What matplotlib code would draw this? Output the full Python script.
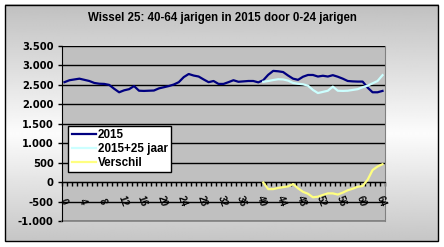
import matplotlib
matplotlib.use('Agg')
import matplotlib.pyplot as plt
from matplotlib.patches import Rectangle
from matplotlib.ticker import MultipleLocator, FuncFormatter
import numpy as np

nan = float('nan')

title = 'Wissel 25: 40-64 jarigen in 2015 door 0-24 jarigen'
series_labels = ['2015', '2015+25 jaar', 'Verschil']
ages = list(range(65))
xtick_labels = ['0', '4', '8', '12', '16', '20', '24', '28', '32', '36',
                '40', '44', '48', '52', '56', '60', '64']

y2015 = [2570, 2620, 2640, 2660, 2630, 2600, 2550, 2530, 2525, 2500,
         2400, 2310, 2360, 2390, 2470, 2350, 2345, 2350, 2355, 2410,
         2440, 2470, 2510, 2570, 2700, 2780, 2740, 2715, 2640, 2570,
         2600, 2525, 2525, 2570, 2620, 2580, 2590, 2600, 2600, 2565,
         2620, 2760, 2860, 2850, 2830, 2740, 2660, 2630, 2710, 2755,
         2755, 2715, 2735, 2715, 2750, 2710, 2660, 2600, 2590, 2585,
         2585, 2430, 2310, 2310, 2345]

y2040 = [nan] * 40 + [
         2580, 2600, 2625, 2645, 2640, 2610, 2550, 2530, 2515, 2480,
         2370, 2290, 2320, 2350, 2455, 2350, 2345, 2350, 2370, 2390,
         2440, 2480, 2540, 2600, 2750]

verschil = [nan] * 40 + [
         -10, -180, -180, -150, -130, -110, -50, -160, -250, -300,
         -390, -375, -330, -290, -290, -320, -270, -210, -170, -120,
         -100, 60, 310, 400, 460]

W, H = 444, 247
fig = plt.figure(figsize=(W / 100, H / 100), dpi=100)
fig.patch.set_facecolor('white')

# background frame with vertical gradient
bg = fig.add_axes([0, 0, 1, 1], zorder=-10)
rows = np.arange(5, 242)
vals = np.interp(rows, [5, 135, 241], [192, 252, 198]) / 255.0
img = np.repeat(vals[:, None], 2, axis=1)
bg.imshow(img, cmap='gray', vmin=0, vmax=1, extent=[5, 438, 241, 5],
          aspect='auto', interpolation='bilinear')
bg.add_patch(Rectangle((5, 5), 433, 236, fill=False, edgecolor='black', lw=1))
bg.set_xlim(0, W)
bg.set_ylim(H, 0)
bg.axis('off')

fig.text(0.501, 1 - 18 / H, title, ha='center', va='center',
         family='Liberation Sans', fontweight='bold', fontsize=8.3)

ax = fig.add_axes([62 / W, 1 - 221 / H, 323 / W, 175 / H])
ax.set_facecolor('#c0c0c0')
ax.set_xlim(0, 65)
ax.set_ylim(-1000, 3500)

x = np.arange(len(ages)) + 0.5
l1, = ax.plot(x, y2015, color='#000080', lw=1.6, zorder=3)
l2, = ax.plot(x, y2040, color='#ccffff', lw=1.6, zorder=3)
l3, = ax.plot(x, verschil, color='#ffff80', lw=1.6, zorder=3)

ax.yaxis.set_major_locator(MultipleLocator(500))
ax.yaxis.set_major_formatter(FuncFormatter(lambda v, p: f"{int(v):,}".replace(',', '.')))
ax.yaxis.grid(True, color='black', lw=1)
ax.set_axisbelow(True)
ax.tick_params(axis='y', length=3, width=1, pad=3, labelsize=7.2, colors='black')
for t in ax.get_yticklabels():
    t.set_fontweight('bold')
    t.set_family('DejaVu Sans')

ax.set_xticks(np.arange(0, 66))
ax.tick_params(axis='x', length=3, width=1, direction='out', labelbottom=False)
ax.spines['bottom'].set_position(('data', 0))
ax.spines['bottom'].set_color('black')
ax.spines['left'].set_color('black')
ax.spines['top'].set_visible(False)
ax.spines['right'].set_color('#808080')
ax.plot([0, 1], [0, 0], transform=ax.transAxes, color='#808080', lw=1.2,
        clip_on=False, zorder=2.5)

for lab in xtick_labels:
    ax.text(int(lab) + 0.2, -500, lab, rotation=-70,
            ha='center', va='center', rotation_mode='anchor',
            fontsize=7, fontweight='bold', family='Liberation Sans', zorder=4)

leg = ax.legend([l1, l2, l3], series_labels, loc='upper left',
                bbox_to_anchor=(0.0186, 0.543), frameon=True, fancybox=False,
                framealpha=1, edgecolor='black', facecolor='white',
                prop={'family': 'Liberation Sans', 'weight': 'bold', 'size': 8.4},
                handlelength=2.1, handletextpad=0.15, borderpad=0.3,
                labelspacing=0.15, borderaxespad=0)
leg.get_frame().set_linewidth(1)
leg.set_zorder(5)

fig.savefig('out.png', dpi=100)
